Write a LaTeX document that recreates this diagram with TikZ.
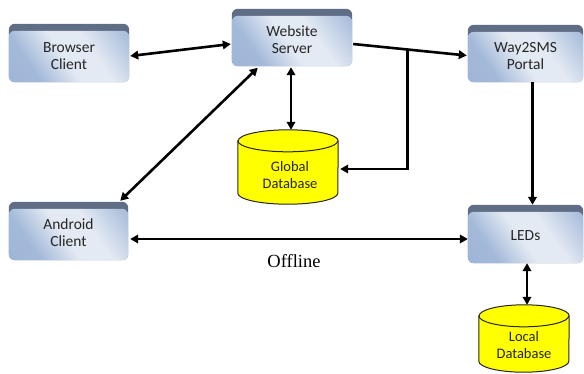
\documentclass[tikz,border=0pt]{standalone}
\usepackage{fontspec}
\setmainfont{Liberation Serif}
\newfontfamily\boxfont{Carlito}
\usetikzlibrary{arrows.meta,calc}
\definecolor{bandcol}{HTML}{5F6D85}
\definecolor{facein}{HTML}{E4EAF3}
\definecolor{faceout}{HTML}{98B1D5}
\definecolor{dbyellow}{HTML}{FFFF00}
\definecolor{txtcol}{HTML}{262626}
\pgfdeclarehorizontalshading{tierface}{100bp}{color(0bp)=(faceout); color(30bp)=(faceout!85!facein); color(48bp)=(facein); color(62bp)=(facein); color(82bp)=(faceout!75!facein); color(100bp)=(faceout)}
\tikzset{
 boxnode/.style={draw=none, inner sep=0pt, rectangle},
 boxtxt/.style={font=\boxfont\fontsize{15.5}{17}\selectfont, text=txtcol, align=center, inner sep=0pt},
 dbtxt/.style={font=\boxfont\fontsize{14.5}{17}\selectfont, text=black!85, align=center, inner sep=0pt},
 face/.style={shading=tierface, shading angle=35, rounded corners=6pt},
 band/.style={fill=bandcol, rounded corners=6pt},
 conn/.style={line width=2.6pt, black, line join=miter},
 arr/.style={conn, -{Triangle[length=8pt,width=8.5pt]}},
 dbl/.style={conn, {Triangle[length=8pt,width=8.5pt]}-{Triangle[length=8pt,width=8.5pt]}},
 dbshape/.style={fill=dbyellow, draw=black!85, line width=1pt},
 offl/.style={font=\fontsize{18.5}{20}\selectfont, inner sep=0pt}
}
% name, cx, cy, w, h, text shift, text
\newcommand{\tierbox}[7]{%
 \node[boxnode, minimum width=#4pt, minimum height=#5pt] (#1) at (#2,#3) {};
 \fill[band] (#1.north west) rectangle (#1.south east);
 \shade[face] ($(#1.north west)+(0,7)$) rectangle (#1.south east);
 \node[boxtxt] (#1-text) at ($(#1.center)+(0,#6)$) {#7};
}
% name, cx, cy, w, h, rx, ry
\newcommand{\dbcyl}[7]{%
 \node[boxnode, minimum width=#4pt, minimum height=#5pt] (#1) at (#2,#3) {};
 \filldraw[dbshape] ($(#1.north west)+(0,#7)$) -- ($(#1.south west)+(0,-#7)$)
   arc[start angle=180,end angle=360,x radius=#6pt,y radius=#7pt]
   -- ($(#1.north east)+(0,#7)$)
   arc[start angle=0,end angle=180,x radius=#6pt,y radius=#7pt] -- cycle;
 \draw[dbshape, fill=none] ($(#1.north west)+(0,#7)$) arc[start angle=180,end angle=360,x radius=#6pt,y radius=#7pt];
}
\begin{document}
\begin{tikzpicture}[x=1pt,y=-1pt]
\fill[white] (0,0) rectangle (584,373);
\path[use as bounding box] (0,0) rectangle (584,373);

\tierbox{bc}{69}{53}{120}{58}{3}{Browser\\Client}
\tierbox{ws}{292}{37.5}{120}{57}{2.5}{Website\\Server}
\tierbox{wp}{525.5}{53.5}{115}{57}{3}{Way2SMS\\Portal}
\tierbox{ac}{68.5}{231}{119}{58}{1.5}{Android\\Client}
\tierbox{led}{525.5}{234}{115}{58}{2}{LEDs}

\dbcyl{gdb}{288}{167}{100}{74}{50}{11}
\node[dbtxt] (gdb-text) at (290,175) {Global\\Database};
\dbcyl{ldb}{524}{338.5}{90}{67}{45}{11}
\node[dbtxt] (ldb-text) at (524,345) {Local\\Database};

% connectors
\draw[dbl] ($(bc.east)+(1,3)$) -- ($(ws.west)+(-1,6.5)$);
\coordinate (v1) at ($(ws.south)+(-1,1)$);
\draw[dbl] (v1) -- (v1 |- gdb.north);
\coordinate (s1) at ($(ws.east)+(1,6.5)$);
\coordinate (s2) at ($(wp.west)+(-1,2)$);
\draw[arr] (s1) -- (s2);
\coordinate (br) at ($(s1)!0.48!(s2)$);
\coordinate (g1) at ($(gdb.east)+(2,2)$);
\draw[arr] (br) |- (g1);
\draw[dbl] ($(ws.south west)+(26,1.5)$) -- ($(ac.north east)+(-8,-1)$);
\coordinate (w1) at ($(wp.south)+(7,0)$);
\draw[arr] (w1) -- (w1 |- led.north);
\coordinate (o1) at ($(ac.east)+(2,8)$);
\draw[dbl] (o1) -- (o1 -| led.west);
\coordinate (l1) at ($(led.south)+(1.5,0)$);
\draw[dbl] (l1) -- (l1 |- ldb.north);

\node[offl] (offline) at (294,261) {Offline};
\end{tikzpicture}
\end{document}
